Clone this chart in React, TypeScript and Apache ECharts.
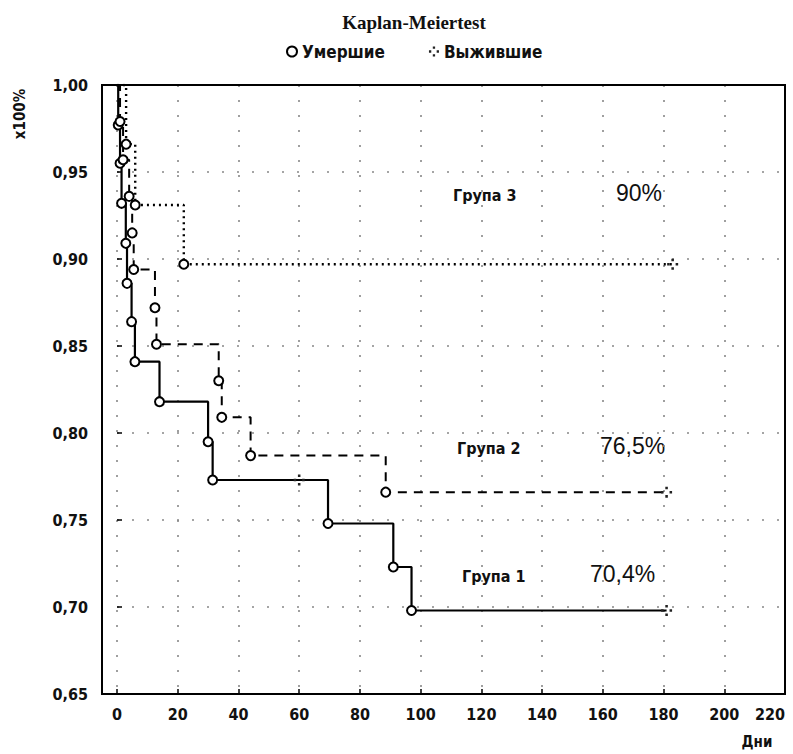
import React, { useEffect, useRef } from "react";
import * as echarts from "echarts";

// ---- data ----
const xTicks = { min: 0, max: 220, step: 20 };
const yTicks = { min: 0.65, max: 1.0, step: 0.05 };

const g1DeathT = [0.4, 1.0, 1.5, 2.9, 3.3, 4.8, 5.9, 14, 30, 31.5, 69.5, 91, 97];
const g1DeathS = [0.977, 0.955, 0.932, 0.909, 0.886, 0.864, 0.841, 0.818, 0.795, 0.773, 0.748, 0.723, 0.698];
const g1CensT = [60, 181];
const g1CensS = [0.773, 0.698];

const g2DeathT = [1, 2, 4, 5, 5.5, 12.5, 13, 33.5, 34.5, 44, 88.5];
const g2DeathS = [0.979, 0.957, 0.936, 0.915, 0.894, 0.872, 0.851, 0.83, 0.809, 0.787, 0.766];
const g2CensT = [181];
const g2CensS = [0.766];

const g3DeathT = [3, 6, 22];
const g3DeathS = [0.966, 0.931, 0.897];
const g3CensT = [183];
const g3CensS = [0.897];

const groupNames = ["Група 1", "Група 2", "Група 3"];
const groupPct = ["70,4%", "76,5%", "90%"];

const TITLE = "Kaplan-Meiertest";
const DEAD = "Умершие";
const ALIVE = "Выжившие";
const Y_NAME = "x100%";
const X_NAME = "Дни";

const NARROW = "'Liberation Sans Narrow', 'DejaVu Sans Condensed', 'Liberation Sans', sans-serif";
const CENS_PATH =
  "path://M4,0h2.4v2.4h-2.4z M0,4h2.4v2.4h-2.4z M8,4h2.4v2.4h-2.4z M4,8h2.4v2.4h-2.4z";

function stepData(dt: number[], ds: number[], ct: number[], cs: number[]) {
  const pts: [number, number][] = [[0, 1]];
  const all: [number, number][] = [];
  dt.forEach((t, i) => all.push([t, ds[i]]));
  ct.forEach((t, i) => all.push([t, cs[i]]));
  all.sort((a, b) => a[0] - b[0]);
  return pts.concat(all);
}

function zip(t: number[], s: number[]) {
  return t.map((v, i) => [v, s[i]]);
}

export default function App() {
  const ref = useRef<HTMLDivElement>(null);
  useEffect(() => {
    if (!ref.current) return;
    const chart = echarts.init(ref.current, null, { renderer: "svg" });
    const deaths = [
      ...zip(g1DeathT, g1DeathS),
      ...zip(g2DeathT, g2DeathS),
      ...zip(g3DeathT, g3DeathS),
    ];
    const cens = [
      ...zip(g1CensT, g1CensS),
      ...zip(g2CensT, g2CensS),
      ...zip(g3CensT, g3CensS),
    ];
    const labelFont = {
      fontFamily: NARROW,
      fontWeight: "bold" as const,
      fontSize: 16,
      color: "#111",
    };
    chart.setOption({
      animation: false,
      backgroundColor: "#fff",
      grid: { left: 117, right: 8, top: 85, bottom: 60, outerBoundsMode: "none", containLabel: false },
      legend: {
        data: [DEAD, ALIVE],
        top: 38,
        left: 281,
        itemGap: 44,
        itemWidth: 10,
        itemHeight: 10,
        textStyle: { fontFamily: NARROW, fontWeight: "bold", fontSize: 17, color: "#111" },
      },
      xAxis: {
        type: "value",
        min: xTicks.min,
        max: xTicks.max,
        interval: xTicks.step,
        axisLine: { show: false },
        axisTick: { show: true, inside: true, length: 5, lineStyle: { color: "#000", width: 1.5 } },
        axisLabel: { ...labelFont, margin: 12, showMaxLabel: true, alignMaxLabel: "right" },
        splitLine: { show: true, lineStyle: { color: "#888", width: 1.6, type: [2, 13] } },
      },
      yAxis: {
        type: "value",
        min: yTicks.min,
        max: yTicks.max,
        interval: yTicks.step,
        offset: 15,
        axisLine: { show: false },
        axisTick: { show: true, inside: true, length: 5, lineStyle: { color: "#000", width: 1.5 } },
        axisLabel: {
          ...labelFont,
          margin: 14,
          formatter: (v: number) => v.toFixed(2).replace(".", ","),
        },
        splitLine: { show: true, lineStyle: { color: "#888", width: 1.6, type: [2, 13] } },
      },
      series: [
        {
          type: "line",
          name: groupNames[0],
          step: "end",
          symbol: "none",
          data: stepData(g1DeathT, g1DeathS, g1CensT, g1CensS),
          lineStyle: { color: "#000", width: 2.2, type: "solid" },
          z: 3,
        },
        {
          type: "line",
          name: groupNames[1],
          step: "end",
          symbol: "none",
          data: stepData(g2DeathT, g2DeathS, g2CensT, g2CensS),
          lineStyle: { color: "#000", width: 2, type: [9, 7] },
          z: 3,
        },
        {
          type: "line",
          name: groupNames[2],
          step: "end",
          symbol: "none",
          data: stepData(g3DeathT, g3DeathS, g3CensT, g3CensS),
          lineStyle: { color: "#000", width: 2.4, type: [2, 4] },
          z: 3,
        },
        {
          type: "scatter",
          name: DEAD,
          data: deaths,
          symbol: "circle",
          symbolSize: 9,
          itemStyle: { color: "#fff", borderColor: "#000", borderWidth: 2, opacity: 1 },
          z: 5,
        },
        {
          type: "scatter",
          name: ALIVE,
          data: cens,
          symbol: CENS_PATH,
          symbolSize: 11,
          itemStyle: { color: "#222", opacity: 1 },
          z: 5,
        },
      ],
      graphic: [
        {
          type: "rect",
          shape: { x: 102, y: 85, width: 683, height: 609 },
          style: { fill: "none", stroke: "#000", lineWidth: 2 },
          z: 10,
        },
        {
          type: "text",
          x: 414,
          y: 22,
          style: {
            text: TITLE,
            align: "center",
            verticalAlign: "middle",
            fontFamily: "'Liberation Serif', 'DejaVu Serif', serif",
            fontWeight: "bold",
            fontSize: 19,
            fill: "#111",
          },
        },
        {
          type: "text",
          x: 20,
          y: 114,
          rotation: Math.PI / 2,
          style: {
            text: Y_NAME,
            align: "center",
            verticalAlign: "middle",
            fontFamily: NARROW,
            fontWeight: "bold",
            fontSize: 15,
            fill: "#111",
          },
        },
        {
          type: "text",
          x: 757,
          y: 742,
          style: {
            text: X_NAME,
            align: "center",
            verticalAlign: "middle",
            fontFamily: NARROW,
            fontWeight: "bold",
            fontSize: 15,
            fill: "#111",
          },
        },
        ...[
          { n: 2, x: 453, y: 195, px: 616, py: 193 },
          { n: 1, x: 457, y: 448, px: 600, py: 446 },
          { n: 0, x: 462, y: 576, px: 590, py: 574 },
        ].flatMap((g) => [
          {
            type: "text",
            x: g.x,
            y: g.y,
            style: {
              text: groupNames[g.n],
              verticalAlign: "middle",
              fontFamily: NARROW,
              fontWeight: "bold",
              fontSize: 16,
              fill: "#111",
            },
          },
          {
            type: "text",
            x: g.px,
            y: g.py,
            style: {
              text: groupPct[g.n],
              verticalAlign: "middle",
              fontFamily: "'Liberation Sans', Arial, sans-serif",
              fontSize: 23,
              fill: "#111",
            },
          },
        ]),
      ],
    });
    return () => chart.dispose();
  }, []);
  return (
    <div
      ref={ref}
      style={{ position: "absolute", left: 0, top: 0, width: 793, height: 754 }}
    />
  );
}
